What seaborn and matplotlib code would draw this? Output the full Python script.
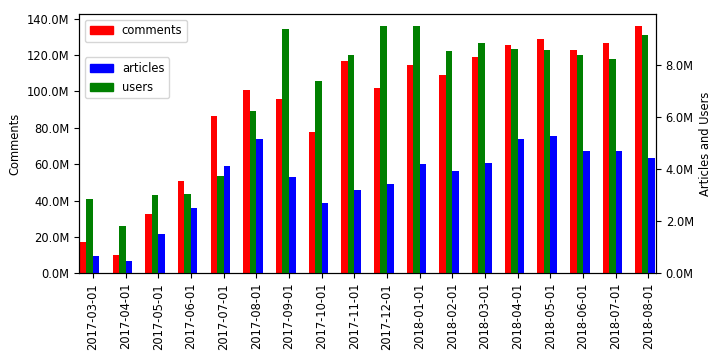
import pandas as pd
import matplotlib
matplotlib.use("Agg")
import matplotlib.pyplot as plt
from matplotlib.patches import Patch
from matplotlib.ticker import FuncFormatter
import seaborn as sns

# monthly totals
months = [
    "2017-03-01", "2017-04-01", "2017-05-01", "2017-06-01", "2017-07-01", "2017-08-01",
    "2017-09-01", "2017-10-01", "2017-11-01", "2017-12-01", "2018-01-01", "2018-02-01",
    "2018-03-01", "2018-04-01", "2018-05-01", "2018-06-01", "2018-07-01", "2018-08-01",
]
comments = [17.3, 10.1, 32.7, 50.9, 86.7, 101.0, 96.0, 77.8, 116.5, 102.0, 114.8, 109.1,
            119.0, 125.6, 128.9, 122.9, 126.7, 135.8]
articles = [0.67, 0.47, 1.51, 2.51, 4.13, 5.13, 3.70, 2.70, 3.20, 3.43, 4.20, 3.93,
            4.24, 5.13, 5.28, 4.67, 4.67, 4.43]
users = [2.86, 1.82, 3.01, 3.05, 3.74, 6.24, 9.36, 7.36, 8.36, 9.47, 9.47, 8.51,
         8.82, 8.59, 8.55, 8.36, 8.20, 9.13]

series_order = ["comments", "users", "articles"]
colors = {"comments": "red", "users": "green", "articles": "blue"}

plt.rcParams["font.size"] = 8.3

df = pd.DataFrame({
    "month": months,
    "comments": [v * 1e6 for v in comments],
    "articles": [v * 1e6 for v in articles],
    "users": [v * 1e6 for v in users],
})
long_df = df.melt(id_vars="month", var_name="series", value_name="count")


def axis_data(keep):
    # every series stays in so the dodge slots line up; the others get height 0
    d = long_df.copy()
    d.loc[~d["series"].isin(keep), "count"] = 0
    return d


fig = plt.figure(figsize=(7.2, 3.6), dpi=100)
ax1 = fig.add_axes([0.110, 0.241, 0.801, 0.72])
ax2 = ax1.twinx()

for ax, keep in ((ax1, ["comments"]), (ax2, ["articles", "users"])):
    sns.barplot(data=axis_data(keep), x="month", y="count",
                hue="series", hue_order=series_order, palette=colors, order=months,
                width=0.6, saturation=1, errorbar=None, linewidth=0, legend=False, ax=ax)
    # the original groups sit slightly left of the tick
    for p in ax.patches:
        p.set_x(p.get_x() - 0.1)

ax1.set_xlim(-0.42, 17.23)
ax1.set_ylim(0, 142.6e6)
ax2.set_ylim(0, 9.94e6)

fmt = FuncFormatter(lambda v, _: f"{v / 1e6:.1f}M")
ax1.yaxis.set_major_formatter(fmt)
ax2.yaxis.set_major_formatter(fmt)

ax1.set_xlabel("")
ax2.set_xlabel("")
ax1.set_ylabel("Comments")
ax2.set_ylabel("Articles and Users")
ax1.tick_params(axis="x", labelrotation=90)

ax1.legend(handles=[Patch(color="red", label="comments")], loc="upper left")
ax2.legend(handles=[Patch(color="blue", label="articles"), Patch(color="green", label="users")],
           loc="upper left", bbox_to_anchor=(0, 0.855))

fig.savefig("out.png", dpi=100)
